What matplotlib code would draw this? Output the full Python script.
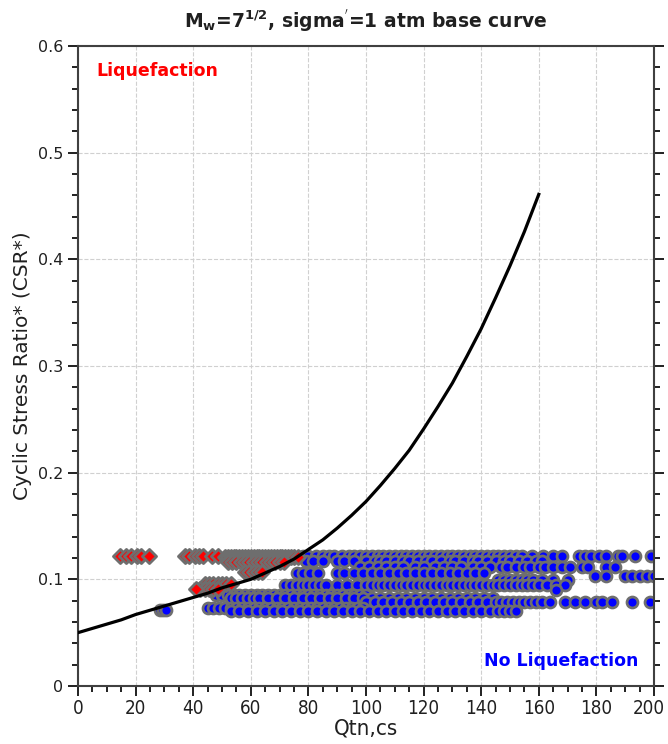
import matplotlib
matplotlib.use("Agg")
from matplotlib import pyplot as plt
from matplotlib.ticker import MultipleLocator, FuncFormatter
import numpy as np

# curva base (Qtn,cs vs CRR)
curve_q = [0, 5, 10, 15, 20, 25, 30, 35, 40, 45, 50, 55, 60, 65, 70, 75, 80,
           85, 90, 95, 100, 105, 110, 115, 120, 125, 130, 135, 140, 145, 150, 155, 160]
curve_csr = [0.050, 0.054, 0.058, 0.062, 0.067, 0.071, 0.075, 0.079, 0.083, 0.087,
             0.092, 0.096, 0.100, 0.106, 0.112, 0.119, 0.128, 0.137, 0.148, 0.160,
             0.173, 0.188, 0.204, 0.221, 0.241, 0.262, 0.284, 0.309, 0.335, 0.364,
             0.394, 0.426, 0.461]

# puntos con licuefaccion (rombos rojos), por fila de CSR*
liq_csr = [0.122, 0.121, 0.116, 0.107, 0.096, 0.091]
liq_q_122 = [14.5, 16.5, 18.5, 20.5, 22, 24.5, 37, 38.5, 40.5, 42, 43.5, 46.5, 48.5]
liq_q_121 = [51, 52, 53, 54, 55, 56, 57, 58, 59, 60, 61, 62, 63, 64, 65, 66, 67, 68,
             69, 70, 71, 72, 73, 74, 75, 76.5]
liq_q_116 = [52, 53.5, 55, 56.5, 58, 59.5, 61, 62.5, 64, 65.5, 67, 68.5, 70, 71.5]
liq_q_107 = [58, 59.5, 61, 62.5, 64]
liq_q_096 = [44, 45.5, 47, 48.5, 50, 51.5, 53]
liq_q_091 = [42.5, 44, 45.5, 47, 48.5, 41]

# puntos sin licuefaccion (circulos azules), por fila de CSR*
nl_csr = [0.122, 0.117, 0.112, 0.106, 0.103, 0.0995, 0.095, 0.090, 0.085,
          0.0825, 0.079, 0.073, 0.070, 0.071]
nl_q_122 = [78, 80, 82.5, 85, 87, 89, 91.5, 94, 96, 98, 100, 102, 104, 106, 108, 110,
            112, 114, 116, 118, 120, 122, 124, 126, 128, 130, 132, 134, 136, 138, 140,
            142, 144, 146, 148, 150, 152, 154, 157.5, 161.5, 165, 168, 174, 176, 178,
            181, 183.5, 187.5, 189, 193.5, 199]
nl_q_117 = [79, 81.5, 85, 90, 92.5, 96, 100, 103, 105, 107, 110, 113, 115, 118, 121,
            123, 126, 129, 131, 134, 137, 139, 142, 145, 148, 150, 153, 156, 159, 161]
nl_q_112 = [98, 101, 104, 107, 110, 113, 117, 120, 124, 127, 130, 133, 137, 140, 143,
            147, 149, 152, 155, 157, 160, 162, 165, 168, 171, 175, 177, 183.5, 186.5]
nl_q_106 = [76, 78, 80.5, 83.5, 90, 92.5, 96, 99, 102, 105, 108, 111, 114, 117, 120,
            123, 126, 129, 132, 135, 138, 141]
nl_q_103 = [179.5, 183.5, 190, 192.5, 195, 197.5, 200]
nl_q_0995 = [146, 148, 150, 152, 154, 156, 158, 161, 165, 170]
nl_q_095 = [72, 74, 76, 78, 80, 82, 84, 86, 90, 93.5, 97, 100, 102, 104, 106, 108,
            110, 112, 114, 116, 118, 120, 122, 124, 126, 128, 130, 132, 134, 136, 138,
            140, 142, 144, 146, 148, 150, 152, 154, 156, 158, 160, 163, 166, 169]
nl_q_090 = [166]
nl_q_085 = [48, 50, 52, 54, 56, 58, 60, 62, 64, 66, 68, 70, 72, 74, 76, 78, 80, 82,
            84, 86, 88, 90, 92, 94, 96, 98, 100]
nl_q_0825 = [53, 55, 57, 59, 61, 63, 66, 69, 72, 75, 78, 81, 84, 87, 90, 93, 96, 99,
             102, 105, 108, 111, 114, 117, 120, 123, 126, 129, 132, 135, 138, 141, 144]
nl_q_079 = [100, 103, 106, 109, 112, 115, 118, 121, 124, 127, 130, 133, 136, 139, 142,
            145, 147, 149, 151, 153, 155, 157, 159, 161, 164, 169, 172.5, 176, 180, 182,
            185.5, 192.5, 198.5]
nl_q_073 = [45, 47, 49, 51, 53, 55, 57, 59, 61, 63, 65, 67, 69, 71, 73, 75, 77, 79, 81,
            83, 85, 87, 89, 91, 93, 95, 97, 99]
nl_q_070 = [53, 56, 59, 62, 65, 68, 71, 74, 77, 80, 83, 86, 89, 92, 95, 98, 101, 104,
            107, 110, 113, 116, 119, 122, 125, 128, 131, 134, 137, 140, 143, 146, 148,
            150, 152]
nl_q_071 = [28.5, 29.5, 30.5]

liq_rows = list(zip(liq_csr, [liq_q_122, liq_q_121, liq_q_116, liq_q_107,
                              liq_q_096, liq_q_091]))
nl_rows = list(zip(nl_csr, [nl_q_122, nl_q_117, nl_q_112, nl_q_106, nl_q_103,
                            nl_q_0995, nl_q_095, nl_q_090, nl_q_085, nl_q_0825,
                            nl_q_079, nl_q_073, nl_q_070, nl_q_071]))

plt.rcParams['mathtext.default'] = 'bf'

fig = plt.figure(figsize=(6.68, 7.44), dpi=100)
ax = fig.add_axes([0.1168, 0.078, 0.8622, 0.860])

edge = '#6e6e6e'
for csr, qs in nl_rows:
    ax.scatter(qs, [csr] * len(qs), s=62, marker='o', facecolor='#0000ff',
               edgecolor=edge, linewidths=2.0, zorder=2)
for csr, qs in liq_rows:
    ax.scatter(qs, [csr] * len(qs), s=52, marker='D', facecolor='#ff0000',
               edgecolor=edge, linewidths=2.0, zorder=2)

ax.plot(curve_q, curve_csr, color='black', lw=2.3, zorder=3)

ax.set_xlim(0, 200)
ax.set_ylim(0, 0.6)
ax.xaxis.set_major_locator(MultipleLocator(20))
ax.xaxis.set_minor_locator(MultipleLocator(5))
ax.yaxis.set_major_locator(MultipleLocator(0.1))
ax.yaxis.set_minor_locator(MultipleLocator(0.02))
ax.yaxis.set_major_formatter(FuncFormatter(lambda v, p: '0' if abs(v) < 1e-9 else f'{v:.1f}'))
# el rotulo 200 se pone aparte, algo corrido para que no quede cortado
ax.xaxis.set_major_formatter(FuncFormatter(lambda v, p: '' if v > 199 else f'{v:.0f}'))

ax.grid(True, which='major', color='#d0d0d0', linestyle='--', linewidth=0.8, zorder=0)
ax.set_axisbelow(True)

for s in ax.spines.values():
    s.set_color('#404040')
    s.set_linewidth(1.5)

ax.tick_params(which='both', direction='out', color='#202020', width=1.4,
               left=True, right=True, bottom=True, top=False, labelright=False)
ax.tick_params(which='major', length=7)
ax.tick_params(which='minor', length=4.5)
ax.tick_params(axis='y', labelsize=11.5, labelcolor='#202020')
ax.tick_params(axis='x', pad=2.5)
for lab in ax.get_xticklabels():
    lab.set_fontstretch('condensed')
    lab.set_fontsize(13.5)
    lab.set_color('#202020')
ax.annotate('200', xy=(200, 0), xycoords='data', xytext=(-4, -9.5),
            textcoords='offset points', ha='center', va='top',
            fontstretch='condensed', fontsize=13.5, color='#202020',
            annotation_clip=False)

ax.set_xlabel('Qtn,cs', fontstretch='condensed', fontsize=16, color='#202020',
              labelpad=0)
ax.set_ylabel('Cyclic Stress Ratio* (CSR*)', fontsize=14.5, color='#202020', labelpad=4)
ax.set_title(r"M$_w$=7$^{1/2}$, sigma$^{'}$=1 atm base curve",
             fontsize=13.5, fontweight='bold', color='#202020', pad=13)

ax.text(6.2, 0.577, 'Liquefaction', color='#ff0000', fontsize=12.5,
        fontweight='bold', va='center', ha='left')
ax.text(194.5, 0.023, 'No Liquefaction', color='#0000ff', fontsize=12.5,
        fontweight='bold', va='center', ha='right')

fig.savefig('out.png', dpi=100)
